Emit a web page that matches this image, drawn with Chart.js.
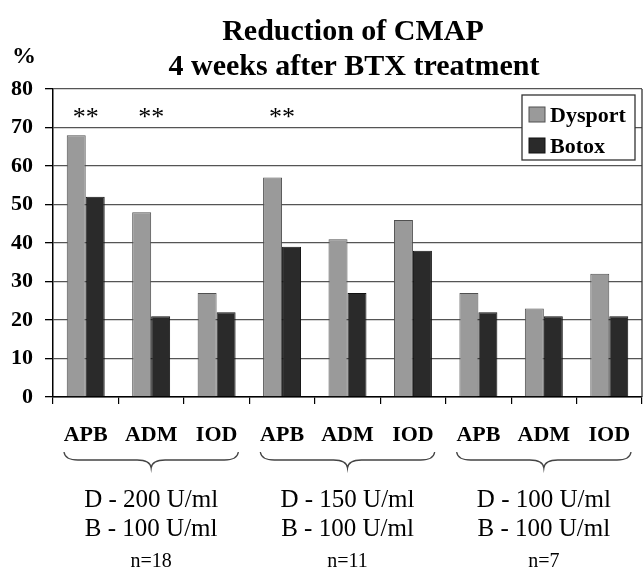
<!DOCTYPE html>
<html>
<head>
<meta charset="utf-8">
<script src="https://cdn.jsdelivr.net/npm/chart.js@4.4.1/dist/chart.umd.min.js"></script>
<style>
html,body{margin:0;padding:0;background:#fff;}
canvas{display:block;}
</style>
</head>
<body>
<canvas id="c" width="643" height="570"></canvas>
<script>
const categories = ['APB','ADM','IOD','APB','ADM','IOD','APB','ADM','IOD'];
const dysport = [68, 48, 27, 57, 41, 46, 27, 23, 32];
const botox   = [52, 21, 22, 39, 27, 38, 22, 21, 21];
const seriesNames = ['Dysport', 'Botox'];
const yTicks = [0,10,20,30,40,50,60,70,80];
const titleLines = ['Reduction of CMAP', '4 weeks after BTX treatment'];
const yUnit = '%';
const significant = [0, 1, 3];
const significanceMark = '**';
const groups = [
  {from: 0, to: 2, lines: ['D - 200 U/ml', 'B - 100 U/ml'], n: 'n=18'},
  {from: 3, to: 5, lines: ['D - 150 U/ml', 'B - 100 U/ml'], n: 'n=11'},
  {from: 6, to: 8, lines: ['D - 100 U/ml', 'B - 100 U/ml'], n: 'n=7'}
];

const SERIF = '"Liberation Serif", "Times New Roman", serif';
const colors = ['#9a9a9a', '#2a2a2a'];
const borders = ['#505050', '#111111'];

function brace(ctx, x1, x2, yTop, depth) {
  const m = (x1 + x2) / 2, y1 = yTop + depth * 0.5, y2 = yTop + depth, r = 14;
  ctx.beginPath();
  ctx.moveTo(x1, yTop);
  ctx.quadraticCurveTo(x1 + 1, y1, x1 + r, y1);
  ctx.lineTo(m - r, y1);
  ctx.quadraticCurveTo(m - 1, y1, m, y2);
  ctx.quadraticCurveTo(m + 1, y1, m + r, y1);
  ctx.lineTo(x2 - r, y1);
  ctx.quadraticCurveTo(x2 - 1, y1, x2, yTop);
  ctx.stroke();
}

const decor = {
  id: 'decor',
  afterDraw(chart) {
    const ctx = chart.ctx, ca = chart.chartArea, xs = chart.scales.x;
    ctx.save();
    ctx.strokeStyle = '#333'; ctx.lineWidth = 1.3;
    ctx.beginPath(); ctx.moveTo(ca.right, ca.top); ctx.lineTo(ca.right, ca.bottom); ctx.stroke();
    ctx.fillStyle = '#000';
    ctx.textAlign = 'center'; ctx.textBaseline = 'alphabetic';
    ctx.font = 'bold 30px ' + SERIF;
    ctx.fillText(titleLines[0], 353, 40);
    ctx.fillText(titleLines[1], 354, 75);
    ctx.font = 'bold 24px ' + SERIF;
    ctx.fillText(yUnit, 24, 63);
    ctx.textBaseline = 'middle';
    ctx.font = '26px ' + SERIF;
    significant.forEach(i => ctx.fillText(significanceMark, xs.getPixelForValue(i), 118));
    const lx = 522, ly = 95, lw = 113, lh = 65;
    ctx.fillStyle = '#fff';
    ctx.fillRect(lx, ly, lw, lh);
    ctx.strokeStyle = '#333'; ctx.lineWidth = 1.3;
    ctx.strokeRect(lx, ly, lw, lh);
    ctx.textAlign = 'left';
    ctx.textBaseline = 'alphabetic';
    ctx.font = 'bold 22px ' + SERIF;
    seriesNames.forEach((name, k) => {
      const base = ly + 27 + k * 31;
      ctx.fillStyle = colors[k];
      ctx.fillRect(lx + 7, base - 15, 16, 15);
      ctx.strokeStyle = borders[k]; ctx.lineWidth = 1;
      ctx.strokeRect(lx + 7, base - 15, 16, 15);
      ctx.fillStyle = '#000';
      ctx.fillText(name, lx + 28, base);
    });
    const step = xs.getPixelForValue(1) - xs.getPixelForValue(0);
    ctx.strokeStyle = '#444'; ctx.lineWidth = 1.3;
    ctx.textAlign = 'center';
    groups.forEach(g => {
      const x1 = xs.getPixelForValue(g.from) - step / 2 + 11;
      const x2 = xs.getPixelForValue(g.to) + step / 2 - 11;
      brace(ctx, x1, x2, 452, 16);
      const cx = (x1 + x2) / 2;
      ctx.fillStyle = '#000';
      ctx.font = '25px ' + SERIF;
      ctx.fillText(g.lines[0], cx, 507);
      ctx.fillText(g.lines[1], cx, 536);
      ctx.font = '20px ' + SERIF;
      ctx.fillText(g.n, cx, 567);
    });
    ctx.restore();
  }
};

new Chart(document.getElementById('c'), {
  type: 'bar',
  data: {
    labels: categories,
    datasets: [
      {label: seriesNames[0], data: dysport, backgroundColor: colors[0], borderColor: borders[0], borderWidth: 1},
      {label: seriesNames[1], data: botox, backgroundColor: colors[1], borderColor: borders[1], borderWidth: 1}
    ]
  },
  options: {
    responsive: false,
    animation: false,
    devicePixelRatio: 1,
    layout: {padding: {top: 89, right: 1, left: 0, bottom: 0}},
    datasets: {bar: {categoryPercentage: 0.58, barPercentage: 1.0}},
    plugins: {legend: {display: false}, title: {display: false}, tooltip: {enabled: false}},
    scales: {
      y: {
        min: 0, max: 80,
        afterBuildTicks(s) { s.ticks = yTicks.map(v => ({value: v})); },
        afterFit(s) { s.width = 53; s.paddingTop = 0; s.paddingBottom = 0; },
        ticks: {color: '#000', font: {family: SERIF, size: 22, weight: 'bold'}, padding: 12},
        grid: {color: '#555', lineWidth: 1.3, tickLength: 8, tickColor: '#000'},
        border: {color: '#000', width: 1.5}
      },
      x: {
        afterFit(s) { s.height = 173; s.paddingLeft = 0; s.paddingRight = 0; },
        ticks: {color: '#000', font: {family: SERIF, size: 22, weight: 'bold'}, padding: 18, maxRotation: 0, autoSkip: false},
        grid: {offset: true, drawOnChartArea: false, tickLength: 7, tickColor: '#000', lineWidth: 1.2},
        border: {color: '#000', width: 1.5}
      }
    }
  },
  plugins: [decor]
});
</script>
</body>
</html>
